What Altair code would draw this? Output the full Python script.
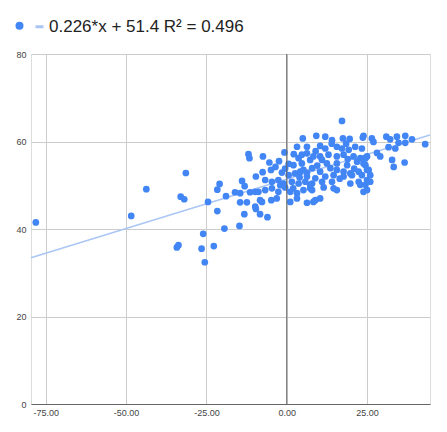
import altair as alt
import pandas as pd

# ---- data ----
xs = [
    -78.1, -48.4, -43.7, -31.4, -33.0, -31.9, -20.9, -21.6, -18.9, -24.5, -21.6, -19.4, -26.0, -34.2, -33.7,
    -26.5, -22.7, -25.5,
    -11.9, -11.6, -7.4, -5.4, -2.4, -0.7, 2.2, 3.2, 0.6, -4.9, -7.5, -9.6, -13.9, -13.1, -16.1, -14.5, -11.4,
    -9.8, -14.5, -12.4, -9.8, -9.6, -7.7, -4.8, -8.3, -6.0, -13.2, -14.7, 1.1,
    3.7, 6.3, 7.3, 4.7, 2.1, -1.5, 0.6, 2.6, 4.2, 6.3, -6.7, -4.6, -2.6, -1.0, 1.6, 3.7, 5.8, 7.9, -8.8, -6.7,
    -4.6, -2.6, 1.1, 3.2, 5.2, 7.3, -8.3, -3.1, 3.2, 6.3, 8.3,
    17.2, 5.0, 9.2, 12.0, 14.1, 17.5, 19.6, 23.7, 6.3, 10.4, 12.0, 15.6, 17.2, 19.3, 21.3, 23.4, 4.7, 8.3, 10.4,
    15.6, 17.7, 20.8, 22.9, 25.0, 11.0, 12.5, 15.6, 18.8, 21.9, 24.5, 5.2, 7.9, 10.4, 13.6, 15.6, 17.7, 19.8,
    22.4, 25.0, 6.3, 8.9, 12.0, 14.6, 17.7, 20.3, 23.4, 7.3, 11.0, 14.1, 19.8, 22.4, 24.5, 7.9, 14.6, 22.9,
    23.9, 8.9, 10.4, 15.6,
    23.9, 26.5, 27.0, 31.0, 32.2, 34.3, 36.9, 39.0, 34.8, 36.9, 43.1, 31.7, 33.8, 28.1, 29.1, 24.5, 23.9, 32.8,
    33.3, 36.7, 25.5, 26.0, 25.0, 26.0, 25.0,
    9.5, 13.0, 19.0, 21.0, 16.5, 11.5, -0.5, -3.5, -0.5, 2.0, 18.5, 14.0, 9.0, 4.0, -2.0,
]
ys = [
    41.5, 43.0, 49.1, 52.8, 47.4, 46.8, 50.3, 49.0, 47.5, 46.2, 44.1, 40.1, 38.9, 35.8, 36.3,
    35.5, 36.1, 32.4,
    57.1, 56.2, 56.6, 55.2, 55.5, 57.5, 57.1, 58.8, 54.9, 53.5, 53.0, 52.0, 51.0, 49.8, 48.4, 48.2, 48.4,
    48.5, 46.1, 46.1, 45.1, 44.6, 46.2, 46.6, 43.4, 42.7, 43.4, 40.7, 46.2,
    56.2, 57.3, 55.8, 55.0, 54.6, 52.9, 52.3, 52.7, 53.1, 52.9, 51.2, 50.8, 51.2, 50.4, 50.8, 50.4, 50.8, 50.4, 48.5, 48.9,
    49.3, 48.5, 48.5, 48.2, 48.9, 49.3, 46.6, 47.0, 47.0, 46.0, 46.2,
    64.7, 60.7, 61.3, 61.1, 60.3, 60.7, 60.6, 60.9, 58.8, 59.0, 58.4, 58.8, 58.4, 58.1, 58.8, 58.4, 57.0, 56.6, 56.6,
    56.6, 57.0, 56.6, 56.2, 56.6, 55.8, 55.0, 55.0, 54.6, 55.4, 54.6, 53.5, 53.9, 53.1, 53.9, 53.5, 53.1, 52.7,
    53.1, 53.5, 52.0, 51.6, 52.0, 52.3, 52.0, 52.3, 52.3, 50.1, 50.8, 50.8, 50.4, 50.8, 50.1, 48.9, 49.3, 50.1,
    48.5, 46.6, 47.0, 48.9,
    61.3, 60.7, 59.9, 61.1, 60.5, 61.1, 61.3, 60.5, 59.7, 59.7, 59.4, 58.7, 58.4, 57.4, 56.6, 56.2, 55.0, 55.8,
    54.2, 55.2, 53.5, 52.3, 51.2, 50.8, 48.9,
    54.5, 57.0, 56.0, 53.8, 51.5, 49.5, 53.8, 54.2, 49.5, 49.3, 59.5, 59.5, 57.8, 51.8, 50.0,
]

slope = 0.226
intercept = 51.4
trend_label = "0.226*x + 51.4 R² = 0.496"
x_domain = [-79.6, 44.6]
y_domain = [0, 80]
x_ticks = [-75, -50, -25, 0, 25]
y_ticks = [0, 20, 40, 60, 80]
series_names = ["pts", "trend"]

BLUE = "#4285f4"
LIGHT = "#abc6f5"
FONT = "Liberation Sans"

pts = pd.DataFrame({"x": xs, "y": ys, "series": "pts"})
trend = pd.DataFrame({"x": x_domain})
zero = pd.DataFrame({"x": [0]})

xscale = alt.Scale(domain=x_domain, nice=False, zero=False)
yscale = alt.Scale(domain=y_domain, nice=False, zero=False)

xaxis = alt.Axis(
    values=x_ticks,
    labelExpr="datum.value < 0 ? '-' + format(-datum.value, '.2f') : format(datum.value, '.2f')",
    title=None, grid=True, gridColor="#cccccc", tickSize=0, ticks=False,
    domainColor="#666666", labelPadding=4, labelFontSize=9, labelColor="#444444",
    labelFont=FONT, labelFlush=False,
)
yaxis = alt.Axis(
    values=y_ticks, title=None, grid=True, gridColor="#cccccc", tickSize=0, ticks=False,
    domain=False, labelPadding=5, labelFontSize=9, labelColor="#444444", labelFont=FONT,
)

legend = alt.Legend(
    title=None, orient="none", direction="horizontal", legendX=-20, legendY=-37,
    labelExpr="datum.value == 'trend' ? '%s' : ''" % trend_label,
    labelFontSize=17, labelFont=FONT, labelColor="#222222", labelLimit=0,
    symbolSize=64, symbolStrokeWidth=3, columnPadding=-1, labelOffset=1, padding=0,
)

line = alt.Chart(trend).transform_calculate(
    y=f"{slope} * datum.x + {intercept}"
).mark_line(color=LIGHT, strokeWidth=1.5).encode(
    x=alt.X("x:Q", scale=xscale, axis=xaxis),
    y=alt.Y("y:Q", scale=yscale, axis=yaxis),
)

points = alt.Chart(pts).mark_point(filled=True, size=45, opacity=1).encode(
    x=alt.X("x:Q", scale=xscale, axis=xaxis),
    y=alt.Y("y:Q", scale=yscale, axis=yaxis),
    fill=alt.Fill("series:N", scale=alt.Scale(domain=series_names, range=[BLUE, LIGHT]), legend=legend),
    stroke=alt.Stroke("series:N", scale=alt.Scale(domain=series_names, range=["transparent", LIGHT]), legend=legend),
    shape=alt.Shape("series:N", scale=alt.Scale(domain=series_names, range=["circle", "stroke"]), legend=legend),
)

zero_rule = alt.Chart(zero).mark_rule(color="#666666", strokeWidth=1).encode(
    x=alt.X("x:Q", scale=xscale),
)

chart = alt.layer(line, points, zero_rule).properties(
    width=399, height=350,
    autosize=alt.AutoSizeParams(type="none"),
    padding={"left": 23, "top": 46, "right": 9, "bottom": 20},
).configure_view(stroke=None).configure(background="white")

chart.save("out.html", embed_options={"renderer": "svg", "actions": False})
